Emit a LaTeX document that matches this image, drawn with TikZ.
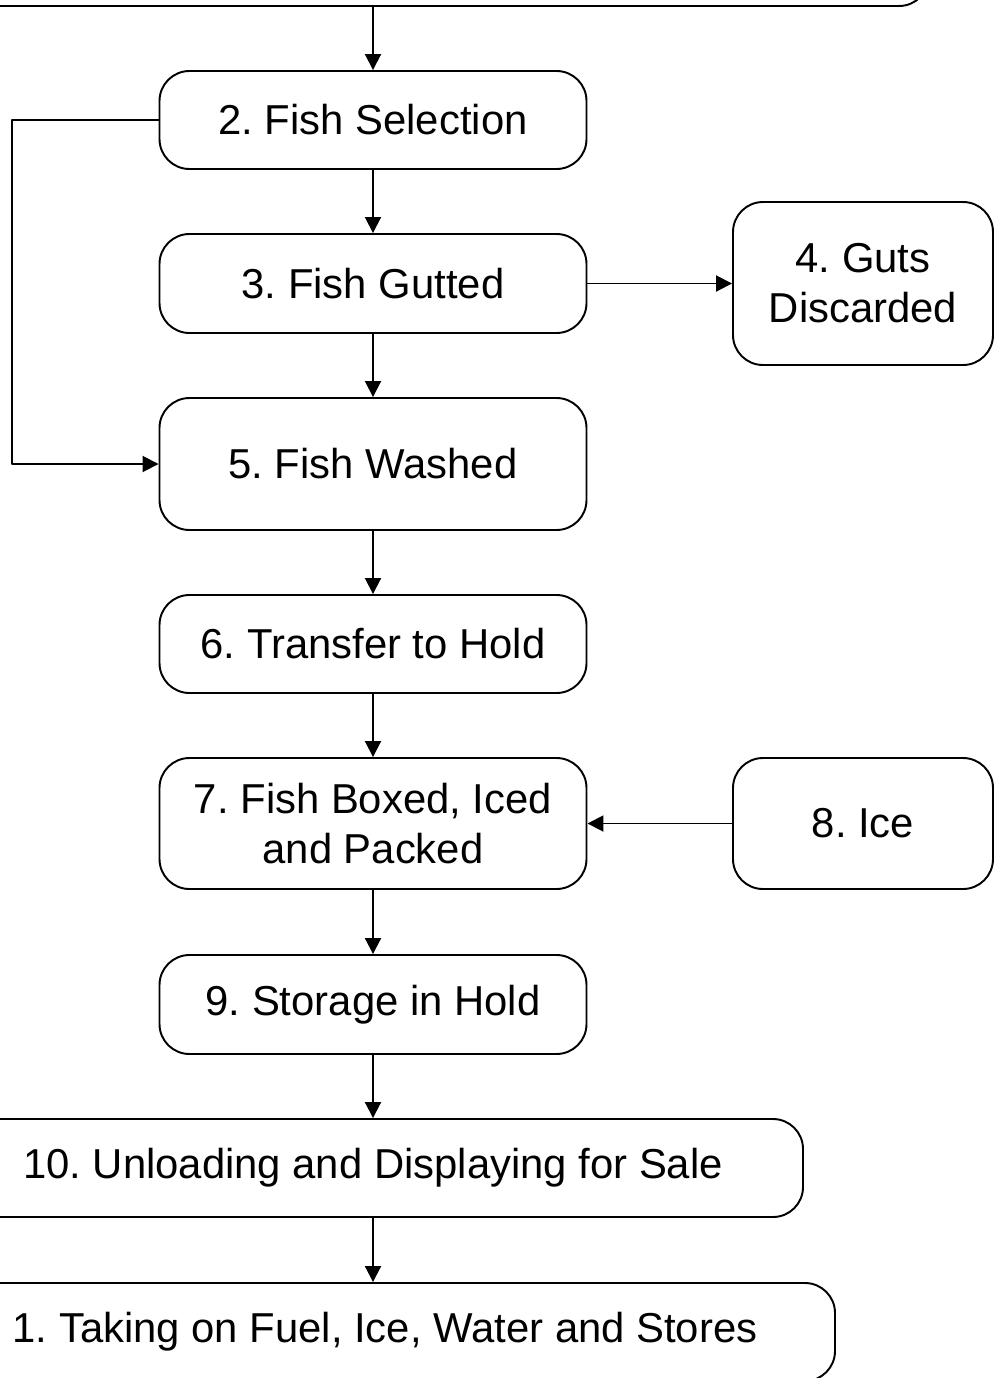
\documentclass[tikz,border=0pt]{standalone}
\usepackage{fontspec}
\setmainfont{Liberation Sans}
\usepackage{tikz}
\usetikzlibrary{arrows}
\usetikzlibrary{arrows.meta,calc}
\frenchspacing

\begin{document}
\begin{tikzpicture}[line cap=round,line join=round,>={Triangle[length=0.32cm,width=0.32cm]},x=1cm,y=1cm,
        stage/.style={draw,line width=1.1pt,rounded corners=0.6cm,inner sep=0pt,align=center,
            font=\fontsize{23.8}{28.5}\selectfont},
        flow/.style={->,line width=1.1pt}]
                \clip (0,0) rectangle (19.9,-27.56);
                \node[stage,minimum width=22.24cm,minimum height=1.96cm] (top) at (7.46,0.86) {};
                \node[stage,minimum width=8.54cm,minimum height=1.96cm] (sel) at (7.46,-2.40) {2. Fish Selection};
                \node[stage,minimum width=8.54cm,minimum height=1.98cm] (gut) at (7.46,-5.67) {3. Fish Gutted};
                \node[stage,minimum width=5.2cm,minimum height=3.26cm] (guts) at (17.26,-5.67) {4. Guts\\Discarded};
                \node[stage,minimum width=8.54cm,minimum height=2.64cm] (wash) at (7.46,-9.28) {5. Fish Washed};
                \node[stage,minimum width=8.54cm,minimum height=1.96cm] (hold) at (7.46,-12.88) {6. Transfer to Hold};
                \node[stage,minimum width=8.54cm,minimum height=2.62cm] (pack) at (7.46,-16.47) {7. Fish Boxed, Iced\\and Packed};
                \node[stage,minimum width=5.2cm,minimum height=2.62cm] (ice) at (17.26,-16.47) {8. Ice};
                \node[stage,minimum width=8.54cm,minimum height=1.98cm] (store) at (7.46,-20.09) {9. Storage in Hold};
                \node[stage,minimum width=17.2cm,minimum height=1.96cm] (unload) at (7.46,-23.36) {10. Unloading and Displaying for Sale};
                \node[stage,minimum width=18.0cm,minimum height=1.96cm] (fuel) at (7.70,-26.64) {1. Taking on Fuel, Ice, Water and Stores};
                \coordinate (loop) at (0.24,-2.40);
                % main line
                \draw [flow] (top.south) -- (sel.north);
                \draw [flow] (sel) -- (gut);
                \draw [flow] (gut) -- (wash);
                \draw [flow] (wash) -- (hold);
                \draw [flow] (hold) -- (pack);
                \draw [flow] (pack) -- (store);
                \draw [flow] (store) -- (unload);
                \draw [flow] (unload.south) -- (unload.south |- fuel.north);
                % side branches
                \draw [flow] (gut) -- (guts);
                \draw [flow] (ice) -- (pack);
                \draw [flow] (sel.west) -- (loop) |- (wash.west);
            \end{tikzpicture}
\end{document}
